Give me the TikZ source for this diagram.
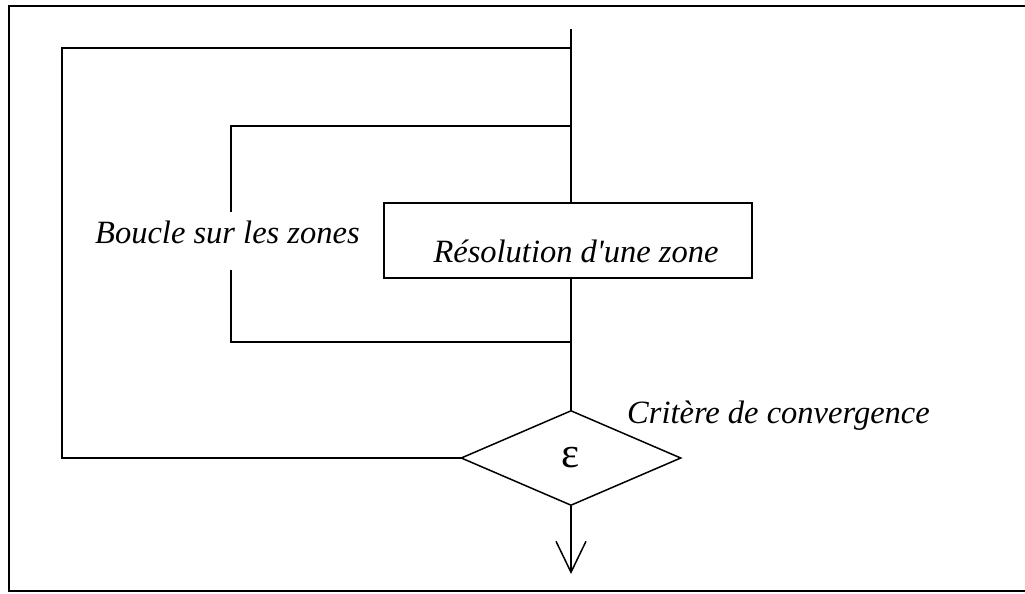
\documentclass[tikz,border=0pt]{standalone}
\usepackage{fontspec}
\setmainfont{Liberation Serif}[Ligatures=TeXOff]
\usetikzlibrary{shapes.geometric,arrows.meta}
\tikzset{
  ln/.style={line width=1.5pt, line cap=rect},
  lbl/.style={font=\fontsize{32.5}{38}\selectfont\itshape, inner sep=0pt},
  procbox/.style={draw, line width=1.5pt, minimum width=368pt, minimum height=75pt, inner sep=0pt},
  decision/.style={draw, diamond, line width=1.5pt, minimum width=220pt, minimum height=95pt, inner sep=0pt, font=\fontsize{43}{46}\selectfont}
}
\begin{document}
\begin{tikzpicture}[x=1pt,y=-1pt]
\useasboundingbox (0,0) rectangle (1025,594);
\clip (0,0) rectangle (1025,594);
% frame
\draw[line width=1.5pt] (1040,6) -- (9,6) -- (9,591) -- (1040,591);
% coordinates
\coordinate (top) at (571,30);
\coordinate (o1) at (571,48);
\coordinate (o2) at (62,48);
\coordinate (o3) at (62,458);
\coordinate (i1) at (571,126);
\coordinate (i2) at (231,126);
\coordinate (i3) at (231,342);
\coordinate (i4) at (571,342);
\coordinate (out) at (571,574);
% loops
\draw[ln] (o1) -- (o2) -- (o3);
\draw[ln] (i1) -- (i2) -- (i3) -- (i4);
% nodes
\node[procbox, anchor=north west] (box) at (383,202) {};
\node[lbl, anchor=base] (boxtxt) at (576,262) {Résolution d'une zone};
\node[decision] (eps) at (571,458) {ε};
\node[lbl, fill=white, anchor=base west, text depth=27pt, text height=31pt] (loop) at (95,243) {Boucle sur les zones};
\node[lbl, anchor=base west] (crit) at (627,423) {Critère de convergence};
% main line
\draw[ln] (top) -- (box.north -| top);
\draw[ln] (box.south -| top) -- (eps.north);
\draw[ln] (o3) -- (eps.west);
\draw[line width=1.5pt, -{Straight Barb[length=31pt,width=30pt]}] (eps.south) -- (out);
\end{tikzpicture}
\end{document}
